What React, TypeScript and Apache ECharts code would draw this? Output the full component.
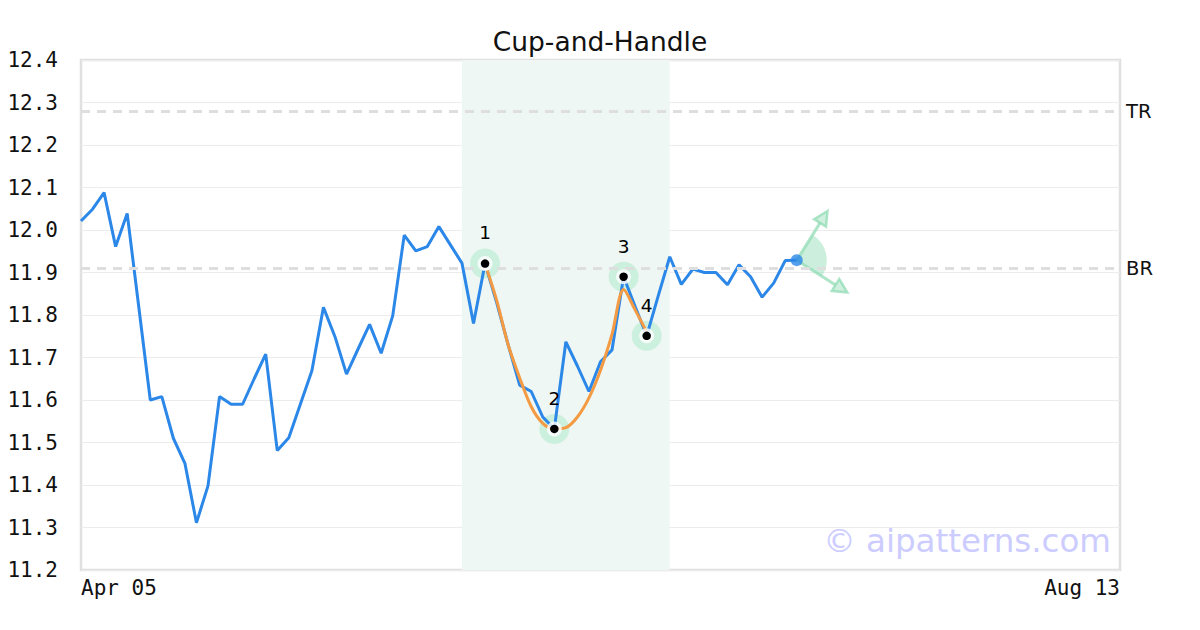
import React, { useEffect, useRef } from 'react';
import * as echarts from 'echarts';

const xTickLabels = ['Apr 05', 'Aug 13'];
const xMax = 90;

const price = [
  12.021, 12.049, 12.088, 11.961, 12.039, 11.82, 11.6, 11.608, 11.51, 11.451,
  11.311, 11.398, 11.608, 11.59, 11.59, 11.65, 11.708, 11.481, 11.511, 11.59,
  11.669, 11.818, 11.749, 11.661, 11.72, 11.778, 11.71, 11.798, 11.988, 11.951,
  11.961, 12.008, 11.965, 11.922, 11.78, 11.921, 11.83, 11.73, 11.635, 11.62,
  11.56, 11.532, 11.737, 11.68, 11.62, 11.69, 11.718, 11.89, 11.82, 11.751,
  11.845, 11.937, 11.872, 11.908, 11.9, 11.9, 11.871, 11.918, 11.89, 11.842,
  11.875, 11.928, 11.929,
];

const cupIdx = [35, 36, 37, 38, 39, 40, 41, 42, 43, 44, 45, 46, 47, 48, 49];
const cupVal = [
  11.92, 11.835, 11.73, 11.652, 11.584, 11.545, 11.532, 11.535, 11.56, 11.605,
  11.67, 11.755, 11.86, 11.812, 11.76,
];

const pointIdx = [35, 41, 47, 49];
const pointVal = [11.921, 11.532, 11.89, 11.751];
const pointLabels = ['1', '2', '3', '4'];

const levelNames = ['TR', 'BR'];
const levelVals = [12.28, 11.906];

const zoneStart = 33;
const zoneEnd = 51;

const BLUE = '#2b87e8';
const ORANGE = '#f49a42';
const MONO = 'DejaVu Sans Mono';
const SANS = 'DejaVu Sans';

export default function App() {
  const ref = useRef<HTMLDivElement>(null);

  useEffect(() => {
    if (!ref.current) return;
    const chart = echarts.init(ref.current, undefined, { renderer: 'svg' });
    const pricePts = price.map((v, i) => [i, v]);
    const cupPts = cupIdx.map((x, i) => [x, cupVal[i]]);
    const markerPts = pointIdx.map((x, i) => [x, pointVal[i]]);
    const last = [price.length - 1, price[price.length - 1]];

    const option: any = {
      animation: false,
      backgroundColor: '#ffffff',
      title: {
        text: 'Cup-and-Handle',
        left: 'center',
        top: 23,
        textStyle: { fontFamily: SANS, fontSize: 26.5, fontWeight: 'normal', color: '#111' },
      },
      grid: {
        left: 81,
        right: 80,
        top: 60,
        bottom: 60,
        show: true,
        borderColor: '#e0e0e0',
        borderWidth: 2.5,
        backgroundColor: 'transparent',
      },
      xAxis: {
        type: 'value',
        min: 0,
        max: xMax,
        interval: xMax,
        axisLine: { show: false },
        axisTick: { show: false },
        splitLine: { show: false },
        axisLabel: {
          fontFamily: MONO,
          fontSize: 21,
          color: '#111',
          margin: 7,
          alignMinLabel: 'left',
          alignMaxLabel: 'right',
          formatter: (v: number) => (v === 0 ? xTickLabels[0] : xTickLabels[1]),
        },
      },
      yAxis: {
        type: 'value',
        min: 11.2,
        max: 12.4,
        interval: 0.1,
        axisLine: { show: false },
        axisTick: { show: false },
        splitLine: { show: true, lineStyle: { color: '#ececec', width: 1 } },
        axisLabel: {
          fontFamily: MONO,
          fontSize: 21,
          color: '#111',
          margin: 23,
          formatter: (v: number) => v.toFixed(1),
        },
      },
      graphic: [
        {
          type: 'text',
          right: 89,
          bottom: 73,
          z: 1,
          style: {
            text: '© aipatterns.com',
            fill: '#ccccff',
            fontFamily: SANS,
            fontSize: 32.5,
          },
        },
      ],
      series: [
        {
          type: 'line',
          name: 'levels',
          data: pricePts,
          showSymbol: false,
          symbol: 'none',
          lineStyle: { opacity: 0, width: 0 },
          z: 1,
          silent: true,
          markArea: {
            silent: true,
            itemStyle: { color: '#eef7f3' },
            data: [[{ xAxis: zoneStart }, { xAxis: zoneEnd }]],
          },
          markLine: {
            silent: true,
            symbol: 'none',
            lineStyle: { color: '#dedede', type: [9, 7], width: 3 },
            label: {
              show: true,
              position: 'end',
              distance: 6,
              formatter: (p: any) => p.name,
              fontFamily: SANS,
              fontSize: 19.5,
              color: '#111',
            },
            data: levelNames.map((n, i) => ({ name: n, yAxis: levelVals[i] })),
          },
        },
        {
          type: 'line',
          name: 'price',
          data: pricePts,
          showSymbol: false,
          symbol: 'none',
          lineStyle: { color: BLUE, width: 3 },
          z: 3,
        },
        {
          type: 'line',
          name: 'cup',
          data: cupPts,
          smooth: 0.3,
          showSymbol: false,
          symbol: 'none',
          lineStyle: { color: ORANGE, width: 3 },
          z: 4,
        },
        {
          type: 'scatter',
          data: markerPts,
          symbolSize: 30,
          itemStyle: { color: '#c3edd8' },
          z: 2,
          silent: true,
        },
        {
          type: 'scatter',
          data: markerPts,
          symbolSize: 15,
          itemStyle: { color: '#ffffff' },
          z: 5,
          silent: true,
        },
        {
          type: 'scatter',
          data: markerPts,
          symbolSize: 8.5,
          itemStyle: { color: '#000000', opacity: 1 },
          z: 6,
          silent: true,
          label: {
            show: true,
            position: 'top',
            distance: 17,
            formatter: (p: any) => pointLabels[p.dataIndex],
            fontFamily: SANS,
            fontSize: 18.5,
            color: '#000',
          },
        },
        {
          type: 'custom',
          data: [last],
          z: 4,
          silent: true,
          renderItem: (params: any, api: any) => {
            const p = api.coord([api.value(0), api.value(1)]);
            const cx = p[0];
            const cy = p[1];
            const a1 = (-58 * Math.PI) / 180;
            const a2 = (32.6 * Math.PI) / 180;
            const stroke = 'rgba(140,218,176,0.7)';
            const fill = 'rgba(150,222,184,0.45)';
            const arrow = (a: number, L: number) => {
              const ex = cx + L * Math.cos(a);
              const ey = cy + L * Math.sin(a);
              const s = 14;
              const w = 7;
              const bx = ex - s * Math.cos(a);
              const by = ey - s * Math.sin(a);
              return [
                {
                  type: 'line',
                  shape: { x1: cx, y1: cy, x2: bx, y2: by },
                  style: { stroke, lineWidth: 3 },
                },
                {
                  type: 'polygon',
                  shape: {
                    points: [
                      [ex, ey],
                      [bx + w * Math.sin(a), by - w * Math.cos(a)],
                      [bx - w * Math.sin(a), by + w * Math.cos(a)],
                    ],
                  },
                  style: { fill, stroke, lineWidth: 2.5 },
                },
              ];
            };
            return {
              type: 'group',
              children: [
                {
                  type: 'sector',
                  shape: { cx, cy, r: 30, r0: 0, startAngle: a1, endAngle: a2, clockwise: true },
                  style: { fill: 'rgba(160,226,192,0.55)' },
                },
                ...arrow(a1, 58),
                ...arrow(a2, 60),
              ],
            };
          },
        },
        {
          type: 'scatter',
          data: [last],
          symbolSize: 12,
          itemStyle: { color: BLUE },
          z: 7,
          silent: true,
        },
      ],
    };

    chart.setOption(option);
    return () => {
      chart.dispose();
    };
  }, []);

  return (
    <div
      ref={ref}
      style={{ position: 'absolute', left: 0, top: 0, width: 1200, height: 630, background: '#fff' }}
    />
  );
}
